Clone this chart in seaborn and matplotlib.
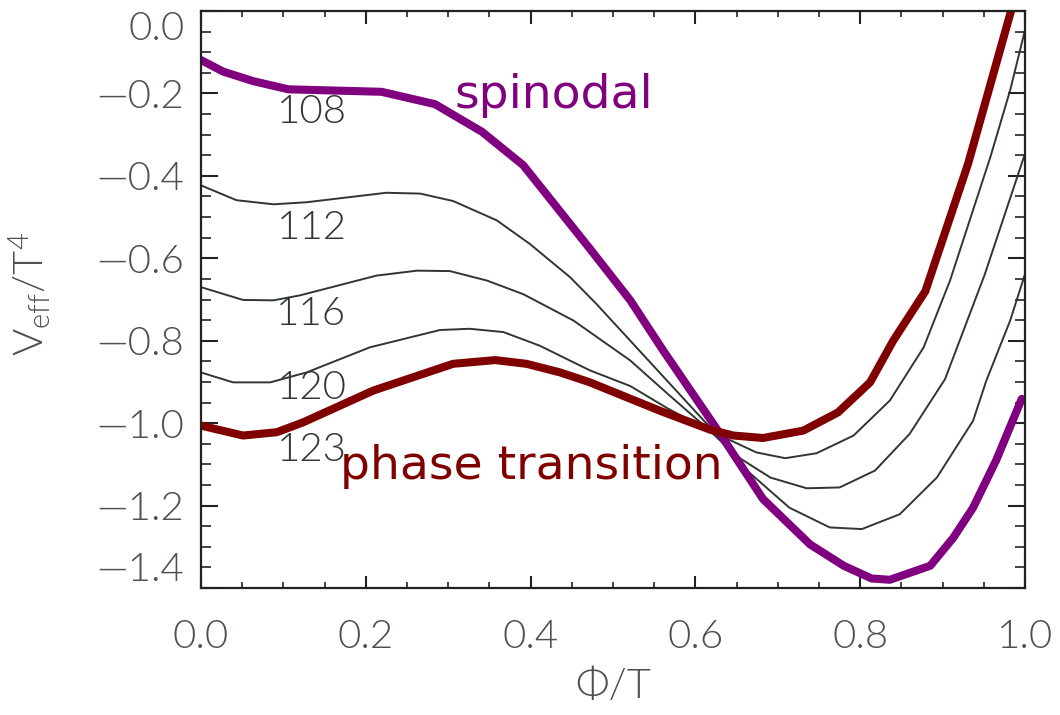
import numpy as np
import pandas as pd
import matplotlib
matplotlib.use("Agg")
import matplotlib.pyplot as plt
import seaborn as sns
from matplotlib.ticker import MultipleLocator, FuncFormatter

# ---- data ----
x_108 = [0.0, 0.027, 0.063, 0.106, 0.219, 0.284, 0.341, 0.391, 0.472, 0.521, 0.561,
         0.630, 0.682, 0.739, 0.780, 0.814, 0.836, 0.885, 0.913, 0.937, 0.965, 0.996]
y_108 = [-0.119, -0.147, -0.170, -0.190, -0.196, -0.226, -0.293, -0.374, -0.577, -0.702, -0.824,
         -1.026, -1.184, -1.294, -1.346, -1.377, -1.380, -1.346, -1.278, -1.205, -1.090, -0.941]

x_112 = [0.0, 0.043, 0.088, 0.128, 0.225, 0.266, 0.306, 0.359, 0.399, 0.448, 0.480, 0.521,
         0.567, 0.614, 0.658, 0.714, 0.763, 0.802, 0.848, 0.893, 0.937, 0.953, 0.982, 1.0]
y_112 = [-0.423, -0.459, -0.469, -0.464, -0.441, -0.443, -0.461, -0.508, -0.565, -0.646, -0.711, -0.800,
         -0.900, -1.002, -1.107, -1.205, -1.253, -1.257, -1.221, -1.132, -0.994, -0.897, -0.751, -0.638]

x_116 = [0.0, 0.051, 0.088, 0.120, 0.213, 0.262, 0.302, 0.347, 0.391, 0.452, 0.521, 0.567,
         0.614, 0.650, 0.691, 0.735, 0.775, 0.818, 0.860, 0.903, 0.951, 1.0]
y_116 = [-0.670, -0.701, -0.702, -0.690, -0.642, -0.630, -0.631, -0.654, -0.687, -0.751, -0.848, -0.930,
         -1.012, -1.080, -1.132, -1.158, -1.156, -1.115, -1.026, -0.893, -0.640, -0.346]

x_120 = [0.0, 0.039, 0.084, 0.128, 0.205, 0.290, 0.326, 0.367, 0.411, 0.472, 0.521, 0.567,
         0.614, 0.674, 0.709, 0.747, 0.792, 0.836, 0.877, 0.909, 0.958, 0.982, 1.0]
y_120 = [-0.877, -0.901, -0.901, -0.877, -0.816, -0.774, -0.771, -0.779, -0.812, -0.872, -0.910, -0.965,
         -1.015, -1.071, -1.085, -1.073, -1.030, -0.945, -0.816, -0.654, -0.354, -0.192, -0.046]

x_123 = [0.0, 0.051, 0.092, 0.124, 0.209, 0.306, 0.357, 0.395, 0.436, 0.472, 0.557, 0.618,
         0.646, 0.682, 0.731, 0.773, 0.812, 0.840, 0.879, 0.931, 0.983]
y_123 = [-1.006, -1.030, -1.022, -0.998, -0.921, -0.856, -0.847, -0.856, -0.877, -0.901, -0.970, -1.016,
         -1.030, -1.036, -1.018, -0.974, -0.901, -0.800, -0.680, -0.370, 0.0]

curve_labels = ["108", "112", "116", "120", "123"]
label_x = [0.135, 0.134, 0.134, 0.134, 0.134]
label_y = [-0.245, -0.527, -0.736, -0.914, -1.064]

x_ticks = [0.0, 0.2, 0.4, 0.6, 0.8, 1.0]
y_ticks = [0.0, -0.2, -0.4, -0.6, -0.8, -1.0, -1.2, -1.4]

# ---- style ----
sns.set_style("ticks")
plt.rcParams["font.family"] = ["DejaVu Sans"]

PURPLE = "#800080"
DARKRED = "#800000"
THIN = "#2e382e"
TXT = "#4a524a"
LIGHT_FONT = ["Lato", "DejaVu Sans"]
W = 300

fig = plt.figure(figsize=(10.6, 7.15), dpi=100)
ax = fig.add_axes([0.1896, 0.1776, 0.7774, 0.807])

thin_sets = [(x_112, y_112), (x_116, y_116), (x_120, y_120)]
for xs, ys in thin_sets:
    sns.lineplot(x=xs, y=ys, ax=ax, color=THIN, lw=1.4, estimator=None, sort=False)

sns.lineplot(x=x_108, y=y_108, ax=ax, color=PURPLE, lw=5.8, estimator=None, sort=False)
sns.lineplot(x=x_123, y=y_123, ax=ax, color=DARKRED, lw=5.8, estimator=None, sort=False)

for t, lx, ly in zip(curve_labels, label_x, label_y):
    ax.text(lx, ly, t, ha="center", va="center", fontsize=29, color="#333733",
            family=LIGHT_FONT, fontweight=W)

ax.text(0.308, -0.236, "spinodal", color=PURPLE, fontsize=34, ha="left", va="baseline")
ax.text(0.169, -1.135, "phase transition", color=DARKRED, fontsize=34, ha="left", va="baseline")

ax.set_xlim(0.0, 1.0)
ax.set_ylim(-1.4, 0.0)
ax.set_xticks(x_ticks)
ax.set_yticks(y_ticks)
ax.xaxis.set_minor_locator(MultipleLocator(0.05))
ax.yaxis.set_minor_locator(MultipleLocator(0.05))
fmt = FuncFormatter(lambda v, p: f"{v:.1f}".replace("-", "\u2014") if abs(v) > 1e-9 else "0.0")
ax.xaxis.set_major_formatter(fmt)
ax.yaxis.set_major_formatter(fmt)

ax.tick_params(axis="x", which="major", direction="in", length=9, width=1.5,
               top=True, bottom=True, labelsize=29, labelcolor=TXT, pad=22, color="#222222")
ax.tick_params(axis="x", which="minor", direction="in", length=4.5, width=1.2,
               top=True, bottom=True, color="#222222")
ax.tick_params(axis="y", which="major", direction="in", length=12, width=1.5,
               left=True, right=True, labelsize=29, labelcolor=TXT, pad=12, color="#222222")
ax.tick_params(axis="y", which="minor", direction="in", length=7, width=1.2,
               left=True, right=True, color="#222222")

for lab in ax.get_xticklabels() + ax.get_yticklabels():
    lab.set_family(LIGHT_FONT)
    lab.set_fontweight(W)

fig.canvas.draw()
ylabs = ax.get_yticklabels()
ylabs[0].set_va("top")
ylabs[-1].set_va("bottom")

for s in ax.spines.values():
    s.set_visible(True)
    s.set_linewidth(1.6)
    s.set_color("#222222")

ax.set_xlabel("\u03a6/T", fontsize=30, color=TXT, labelpad=10, family=LIGHT_FONT, fontweight=W)
ax.set_ylabel(r"$\mathregular{V_{eff}/T^4}$", fontsize=30, color=TXT,
              family=LIGHT_FONT, fontweight=W)
ax.yaxis.set_label_coords(-0.18, 0.51)

fig.savefig("out.png", dpi=100)
